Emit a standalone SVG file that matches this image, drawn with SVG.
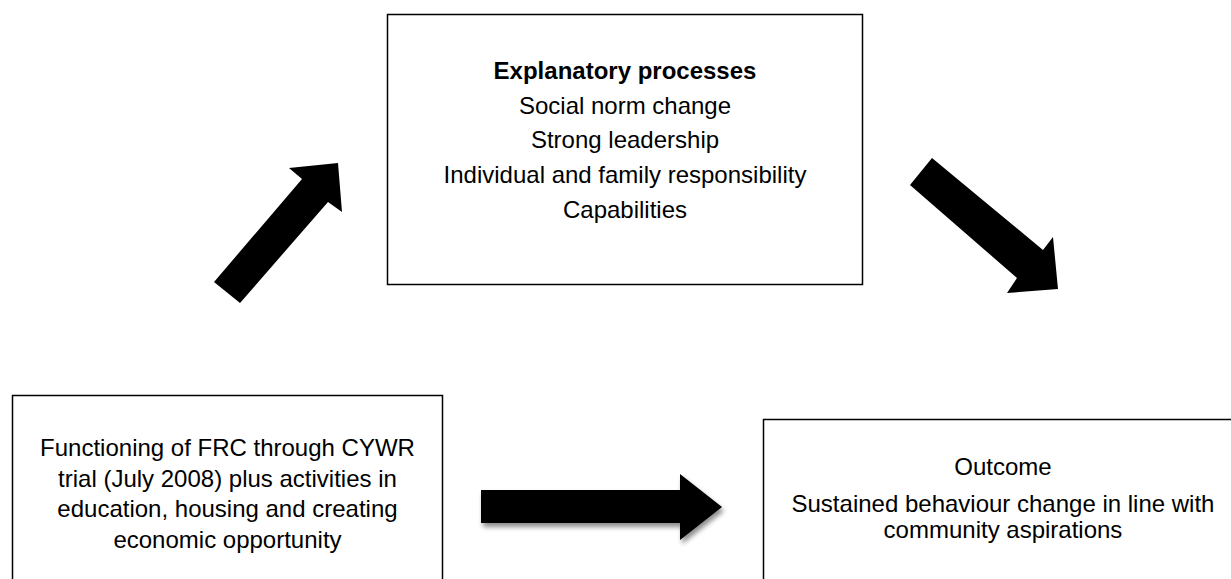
<svg xmlns="http://www.w3.org/2000/svg" width="1231" height="579" viewBox="0 0 1231 579">
  <style>
    .box { fill: #ffffff; stroke: #000000; stroke-width: 1.5; }
    .t { font-family: "Liberation Sans", Arial, sans-serif; font-size: 24px; fill: #000000; text-anchor: middle; }
    .b { font-weight: bold; }
    .arrow { fill: #000000; }
  </style>
  <defs>
    <filter id="shadow" x="-10%" y="-30%" width="130%" height="180%">
      <feGaussianBlur in="SourceAlpha" stdDeviation="2.5"/>
      <feOffset dx="2" dy="4" result="ob"/>
      <feComponentTransfer><feFuncA type="linear" slope="0.45"/></feComponentTransfer>
      <feMerge><feMergeNode/><feMergeNode in="SourceGraphic"/></feMerge>
    </filter>
  </defs>
  <rect width="1231" height="579" fill="#ffffff"/>

  <g id="node-explanatory">
    <rect class="box" x="387.5" y="14.5" width="475" height="270"/>
    <text class="t b" x="625" y="79">Explanatory processes</text>
    <text class="t" x="625" y="114">Social norm change</text>
    <text class="t" x="625" y="148">Strong leadership</text>
    <text class="t" x="625" y="183">Individual and family responsibility</text>
    <text class="t" x="625" y="218">Capabilities</text>
  </g>

  <g id="node-functioning">
    <rect class="box" x="12.5" y="395.5" width="430" height="200"/>
    <text class="t" x="227.5" y="456">Functioning of FRC through CYWR</text>
    <text class="t" x="227.5" y="487">trial (July 2008) plus activities in</text>
    <text class="t" x="227.5" y="517">education, housing and creating</text>
    <text class="t" x="227.5" y="548">economic opportunity</text>
  </g>

  <g id="node-outcome">
    <rect class="box" x="763.5" y="419.5" width="480" height="180"/>
    <text class="t" x="1003" y="475">Outcome</text>
    <text class="t" x="1003" y="512">Sustained behaviour change in line with</text>
    <text class="t" x="1003" y="538">community aspirations</text>
  </g>

  <g id="connectors">
    <polygon class="arrow" points="214,282 302,179 289,168 338,163 342,212 328,202 240,303"/>
    <polygon class="arrow" points="932,158 1043,250 1053,237 1058,289 1007,293 1017,278 910,185"/>
    <polygon class="arrow" filter="url(#shadow)" points="481,490 680,490 680,474 722,507 680,540 680,523 481,523"/>
  </g>
</svg>
